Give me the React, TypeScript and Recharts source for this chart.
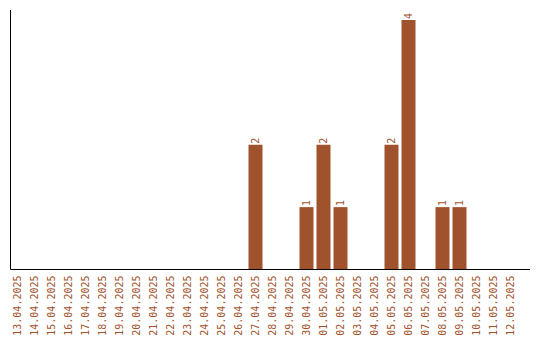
import React from "react";
import { BarChart, Bar, XAxis, YAxis, LabelList } from "recharts";

const days = [
  "13.04.2025", "14.04.2025", "15.04.2025", "16.04.2025", "17.04.2025",
  "18.04.2025", "19.04.2025", "20.04.2025", "21.04.2025", "22.04.2025",
  "23.04.2025", "24.04.2025", "25.04.2025", "26.04.2025", "27.04.2025",
  "28.04.2025", "29.04.2025", "30.04.2025", "01.05.2025", "02.05.2025",
  "03.05.2025", "04.05.2025", "05.05.2025", "06.05.2025", "07.05.2025",
  "08.05.2025", "09.05.2025", "10.05.2025", "11.05.2025", "12.05.2025",
];
const counts = [
  0, 0, 0, 0, 0, 0, 0, 0, 0, 0, 0, 0, 0, 0, 2,
  0, 0, 1, 2, 1, 0, 0, 2, 4, 0, 1, 1, 0, 0, 0,
];

const COLOR = "#A0522D";
const FONT = "'DejaVu Sans Mono', monospace";

const data = days.map((d, i) => ({ day: d, count: counts[i] }));

function DayTick(props: any) {
  const { x, y, payload } = props;
  return (
    <text
      transform={`translate(${x + 0.5},${y - 2}) rotate(-90)`}
      textAnchor="end"
      dominantBaseline="middle"
      fill={COLOR}
      fontSize={10}
      fontFamily={FONT}
    >
      {payload.value}
    </text>
  );
}

function CountLabel(props: any) {
  const { x, y, width, value } = props;
  if (!value) return null;
  const cx = x + width / 2;
  return (
    <text
      transform={`translate(${cx},${y - 1}) rotate(-90)`}
      textAnchor="start"
      dominantBaseline="middle"
      fill={COLOR}
      fontSize={10}
      fontFamily={FONT}
    >
      {value}
    </text>
  );
}

export default function App() {
  return (
    <div style={{ position: "absolute", left: 0, top: 0, background: "#fff" }}>
      <BarChart
        width={540}
        height={340}
        data={data}
        margin={{ top: 10, right: 10, left: 9.5, bottom: 0 }}
      >
        <XAxis
          dataKey="day"
          interval={0}
          height={70.5}
          tickLine={false}
          tick={<DayTick />}
          stroke="#000"
          padding={{ left: -2, right: 11.5 }}
        />
        <YAxis
          width={1}
          tick={false}
          tickLine={false}
          stroke="#000"
          domain={[0, (max: number) => max * 1.04]}
        />
        <Bar dataKey="count" fill={COLOR} barSize={14} isAnimationActive={false}>
          <LabelList dataKey="count" content={<CountLabel />} />
        </Bar>
      </BarChart>
    </div>
  );
}
